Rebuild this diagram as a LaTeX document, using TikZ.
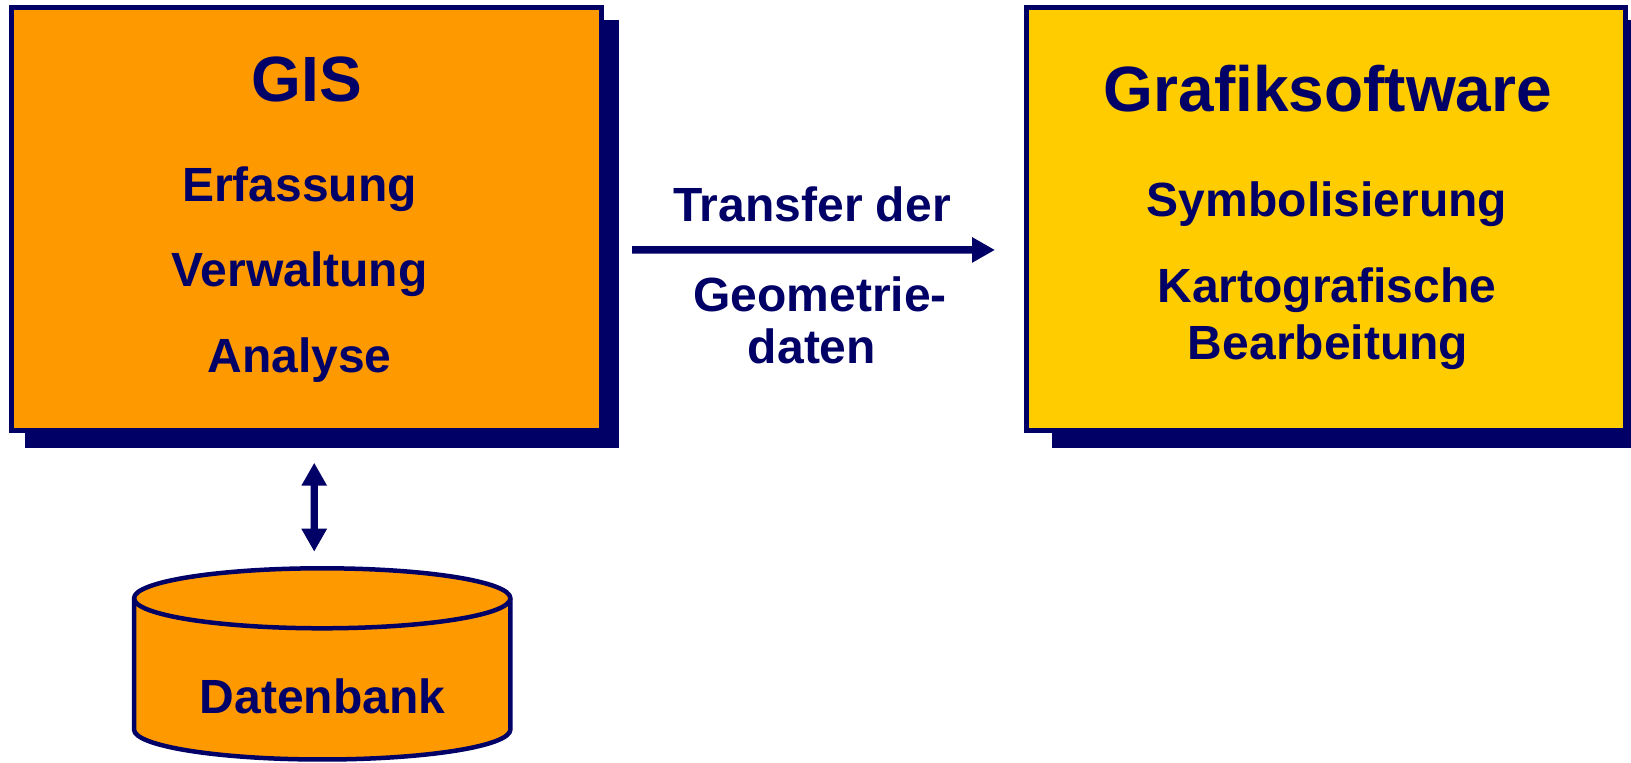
\documentclass[tikz,border=0pt]{standalone}
\usepackage{fontspec}
\setmainfont{Liberation Sans}
\usetikzlibrary{arrows.meta, backgrounds}
\definecolor{navy}{RGB}{0,0,102}
\definecolor{gisorange}{RGB}{255,153,0}
\definecolor{grafgelb}{RGB}{255,204,0}
\tikzset{spitze/.tip={Triangle[length=23pt, width=24pt]}}

\begin{document}
\begin{tikzpicture}[x=1pt, y=1pt,
        kasten/.style={draw=navy, line width=5pt, minimum height=422.5pt},
        txt/.style={anchor=base, text=navy, font=\fontsize{48}{57}\selectfont\bfseries},
        titel/.style={txt, font=\fontsize{64}{76}\selectfont\bfseries},
        pfeil/.style={draw=navy, line width=7.5pt, -spitze},
        dpfeil/.style={draw=navy, line width=7.3pt, spitze-spitze}]
            \useasboundingbox (0,0) rectangle (1631,763);
            % boxes
            \node[kasten, fill=gisorange, minimum width=589.5pt] (gis) at (306.25,543.75) {};
            \node[kasten, fill=grafgelb, minimum width=599pt] (grafik) at (1326,543.8) {};
            \begin{scope}[on background layer]
            \fill[navy] ([shift={(15.5,-15)}]gis.south west) rectangle ([shift={(15.5,-15)}]gis.north east);
            \fill[navy] ([shift={(28,-15)}]grafik.south west) rectangle ([shift={(28,-15)}]grafik.north east);
            \end{scope}
            % GIS
            \node[titel] (gistitel) at (307,661) {GIS};
            \node[txt] (erfassung) at (299.5,561.3) {Erfassung};
            \node[txt] (verwaltung) at (299.5,476.3) {Verwaltung};
            \node[txt] (analyse) at (299.5,390) {Analyse};
            % Grafiksoftware
            \node[titel] (graftitel) at (1328,651.3) {Grafiksoftware};
            \node[txt] (symbol) at (1327,546.3) {Symbolisierung};
            \node[txt] (karto) at (1327,460) {Kartografische};
            \node[txt] (bearb) at (1328,403) {Bearbeitung};
            % transfer
            \node[txt] (transfer) at (812,541.3) {Transfer der};
            \node[txt] (geometrie) at (820,451.3) {Geometrie-};
            \node[txt] (daten) at (812,399.7) {daten};
            \draw[pfeil, shorten <=28.5pt, shorten >=29pt] ([yshift=-30.75pt]gis.east) -- ([yshift=-30.75pt]grafik.west);
            % Datenbank
            \filldraw[draw=navy, fill=gisorange, line width=4.5pt]
                  (134,164.7) -- (134,33.5) arc[start angle=180, end angle=360, x radius=188.2, y radius=30]
                  -- (510.4,164.7) arc[start angle=0, end angle=180, x radius=188.2, y radius=30] -- cycle;
            \draw[navy, line width=4.5pt] (134,164.7) arc[start angle=180, end angle=360, x radius=188.2, y radius=30];
            \coordinate (dbtop) at (322.2,197);
            \node[txt] (db) at (322.5,49) {Datenbank};
            \draw[dpfeil, shorten <=29.7pt, shorten >=14.3pt] ([xshift=8pt]gis.south) -- ([xshift=-8pt]dbtop);
\end{tikzpicture}
\end{document}
